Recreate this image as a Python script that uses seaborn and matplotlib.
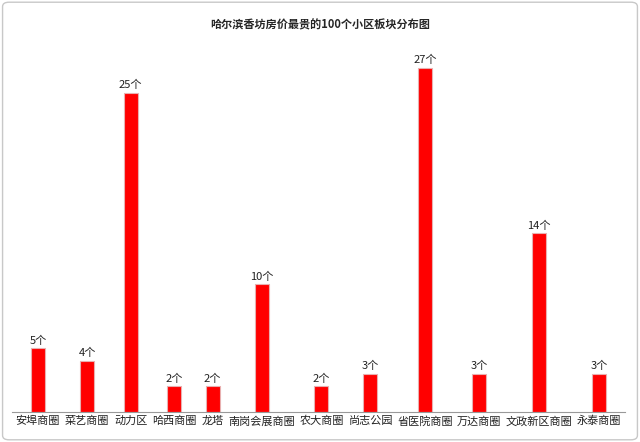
import matplotlib
matplotlib.use("Agg")
import numpy as np
import matplotlib.pyplot as plt
import seaborn as sns
from matplotlib.patches import FancyBboxPatch

areas = ["安埠商圈", "菜艺商圈", "动力区", "哈西商圈", "龙塔", "南岗会展商圈",
         "农大商圈", "尚志公园", "省医院商圈", "万达商圈", "文政新区商圈", "永泰商圈"]
counts = [5, 4, 25, 2, 2, 10, 2, 3, 27, 3, 14, 3]

# category slots sized by label length so labels don't collide
lens = np.array([len(a) for a in areas], dtype=float)
gaps = (lens[:-1] + lens[1:]) / 2 + 0.55
xpos = np.concatenate([[0], np.cumsum(gaps)])

sns.set_style("white")
plt.rcParams['font.family'] = ['Noto Sans CJK SC', 'DejaVu Sans']

fig = plt.figure(figsize=(6.4, 4.42), dpi=100)
fig.patches.append(FancyBboxPatch((0.004, 0.005), 0.992, 0.99,
                                  boxstyle="round,pad=0,rounding_size=0.01",
                                  transform=fig.transFigure, fill=False,
                                  edgecolor="#c8c8c8", linewidth=1))
ax = fig.add_axes([0.0195, 0.068, 0.957, 0.837])
span = xpos[-1]
px = span / (599 - 38)  # data units per pixel
# seaborn scales width by the smallest spacing between native positions
sns.barplot(x=xpos, y=counts, native_scale=True, color="#ff0000", saturation=1,
            width=14 * px / gaps.min(), edgecolor="#e8b0b0", linewidth=0.8, ax=ax)
for x, v in zip(xpos, counts):
    ax.text(x, v + 0.2, f"{v}个", ha="center", va="bottom", fontsize=8, color="#222222")
ax.set_ylim(0, 29)
ax.set_xlim(-(38 - 12.5) * px, span + (625 - 599) * px)
ax.set_xticks(xpos)
ax.set_xticklabels(areas)
ax.set_yticks([])
ax.tick_params(axis="x", labelsize=8, length=0, pad=3, colors="#222222")
for s in ["top", "left", "right"]:
    ax.spines[s].set_visible(False)
ax.spines["bottom"].set_color("#999999")
fig.text(0.5, 0.935, "哈尔滨香坊房价最贵的100个小区板块分布图", ha="center",
         fontsize=8, fontweight="bold")
fig.savefig("out.png", dpi=100)
